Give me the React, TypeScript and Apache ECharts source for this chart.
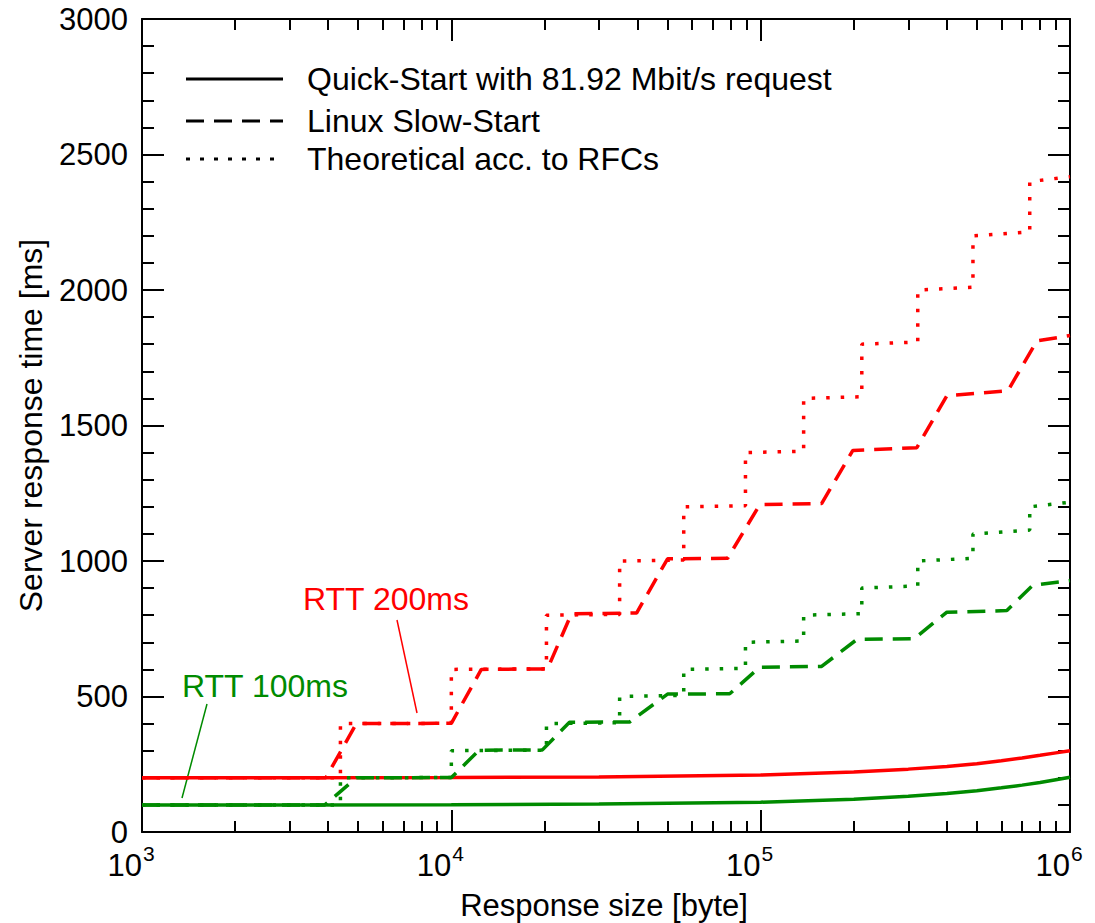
import React, { useEffect, useRef } from "react";
import * as echarts from "echarts";

const FONT = '"Liberation Sans", Arial, Helvetica, sans-serif';
const RED = "#ff0000";
const GREEN = "#008b00";

// Quick-Start with 81.92 Mbit/s request
const quickSizes = [1000, 3000, 10000, 30000, 100000, 200000, 300000, 400000, 500000, 600000, 700000, 800000, 900000, 1000000];
const quickRtt200 = [200, 200, 201, 203, 210, 221, 232, 242, 252, 263, 273, 283, 292, 300];
const quickRtt100 = [100, 100, 101, 103, 110, 121, 132, 142, 152, 163, 173, 183, 193, 202];

// Linux Slow-Start
const linuxSizes200 = [1000, 3930, 4930, 10000, 12500, 20460, 24440, 39700, 50000, 78200, 99300, 157400, 198600, 319800, 400000, 629700, 781000, 1000000];
const linuxRtt200 = [200, 200, 400, 401, 600, 602, 805, 808, 1008, 1010, 1208, 1212, 1408, 1418, 1610, 1628, 1812, 1832];
const linuxSizes100 = [1000, 3900, 4930, 10000, 12300, 19700, 24100, 37700, 50000, 79400, 99300, 157400, 205000, 313000, 400000, 625000, 757000, 1000000];
const linuxRtt100 = [100, 100, 200, 201, 302, 303, 405, 406, 509, 510, 608, 611, 711, 713, 811, 817, 910, 928];

// Theoretical acc. to RFCs
const rfcSizes = [1000, 4380, 4380, 10000, 10000, 20300, 20300, 35000, 35000, 56400, 56400, 89300, 89300, 137700, 137700, 212300, 212300, 322000, 322000, 485600, 485600, 741000, 741000, 1000000];
const rfcRtt200 = [200, 200, 400, 401, 600, 602, 800, 803, 1000, 1004, 1200, 1204, 1400, 1405, 1600, 1606, 1800, 1808, 2000, 2010, 2200, 2214, 2400, 2418];
const rfcRtt100 = [100, 100, 200, 201, 300, 302, 400, 403, 500, 504, 600, 604, 700, 705, 800, 806, 900, 908, 1000, 1010, 1100, 1114, 1200, 1217];

// axis ticks
const yTickInterval = 500;
const minorMultipliers = [2, 3, 4, 5, 6, 7, 8, 9];
const decadeExponents = [3, 4, 5];
const minorTickPositions = decadeExponents.flatMap((e) => minorMultipliers.map((m) => e + Math.log10(m)));

const legendLabels = [
  "Quick-Start with 81.92 Mbit/s request",
  "Linux Slow-Start",
  "Theoretical acc. to RFCs",
];

const pairs = (xs: number[], ys: number[]) => xs.map((x, i) => [x, ys[i]]);

const DASH = [18, 10];
const DOT = [3.5, 11];

export default function App() {
  const ref = useRef<HTMLDivElement>(null);
  useEffect(() => {
    if (!ref.current) return;
    const chart = echarts.init(ref.current, null, { renderer: "svg" });
    const black = { color: "#000", width: 2 };
    const majorX = (pos: string, withLabel: boolean) => ({
      type: "log",
      logBase: 10,
      min: 1000,
      max: 1000000,
      position: pos,
      gridIndex: 0,
      axisLine: { show: true, onZero: false, lineStyle: black },
      axisTick: { show: true, inside: true, length: 22, lineStyle: black },
      splitLine: { show: false },
      minorTick: { show: false },
      axisLabel: withLabel
        ? {
            show: true,
            margin: 19,
            formatter: (v: number) => `{b|10}{s|${Math.round(Math.log10(v))}}`,
            rich: {
              b: { fontSize: 31, lineHeight: 30, fontFamily: FONT, color: "#000", verticalAlign: "bottom" },
              s: { fontSize: 21, lineHeight: 20, fontFamily: FONT, color: "#000", verticalAlign: "bottom", padding: [0, 22, 17, 1] },
            },
          }
        : { show: false },
      ...(withLabel
        ? {
            name: "Response size [byte]",
            nameLocation: "middle",
            nameGap: 58,
            nameMoveOverlap: false,
            nameTextStyle: { fontSize: 31, fontFamily: FONT, color: "#000", padding: [0, 4, 0, 0] },
          }
        : {}),
    });
    const minorX = (pos: string) => ({
      type: "value",
      min: 3,
      max: 6,
      position: pos,
      gridIndex: 0,
      axisLine: { show: false, onZero: false },
      axisTick: { show: true, inside: true, length: 11, customValues: minorTickPositions, lineStyle: black },
      axisLabel: { show: false },
      splitLine: { show: false },
    });
    const yAx = (pos: string, withLabel: boolean) => ({
      type: "value",
      min: 0,
      max: 3000,
      interval: yTickInterval,
      position: pos,
      axisLine: { show: true, onZero: false, lineStyle: black },
      axisTick: { show: true, inside: true, length: 22, lineStyle: black },
      minorTick: { show: true, splitNumber: 5, length: 12, lineStyle: black },
      splitLine: { show: false },
      axisLabel: withLabel
        ? { show: true, fontSize: 31, fontFamily: FONT, color: "#000", margin: 14, formatter: (v: number) => String(v) }
        : { show: false },
      ...(withLabel
        ? {
            name: "Server response time [ms]",
            nameLocation: "middle",
            nameGap: 95,
            nameMoveOverlap: false,
            nameTextStyle: { fontSize: 32, fontFamily: FONT, color: "#000" },
          }
        : {}),
    });
    const line = (data: number[][], color: string, type: any, z: number) => ({
      type: "line",
      xAxisIndex: 0,
      yAxisIndex: 0,
      data,
      symbol: "none",
      showSymbol: false,
      z,
      lineStyle: { color, width: 3.5, type, cap: "butt" },
      emphasis: { disabled: true },
    });
    const legendRows = [79, 121, 159];
    const legendDash = [null, DASH, [4, 10]];
    const graphic: any[] = [];
    legendRows.forEach((y, i) => {
      graphic.push({
        type: "line",
        shape: { x1: 186, y1: y, x2: 283, y2: y },
        style: { stroke: "#000", lineWidth: 3, lineDash: legendDash[i] || null },
      });
      graphic.push({
        type: "text",
        x: 307,
        y,
        style: { text: legendLabels[i], font: `32px ${FONT}`, fill: "#000", textAlign: "left", textVerticalAlign: "middle" },
      });
    });
    graphic.push({
      type: "text",
      x: 303,
      y: 599,
      style: { text: "RTT 200ms", font: `32px ${FONT}`, fill: RED, textAlign: "left", textVerticalAlign: "middle" },
    });
    graphic.push({
      type: "line",
      shape: { x1: 397, y1: 620, x2: 417, y2: 713 },
      style: { stroke: RED, lineWidth: 1.5 },
    });
    graphic.push({
      type: "text",
      x: 182,
      y: 686,
      style: { text: "RTT 100ms", font: `32px ${FONT}`, fill: GREEN, textAlign: "left", textVerticalAlign: "middle" },
    });
    graphic.push({
      type: "line",
      shape: { x1: 207, y1: 704, x2: 182, y2: 798 },
      style: { stroke: GREEN, lineWidth: 1.5 },
    });

    chart.setOption({
      animation: false,
      backgroundColor: "#fff",
      textStyle: { fontFamily: FONT },
      grid: { left: 142, right: 25, top: 19, bottom: 91, containLabel: false, outerBoundsMode: "none" },
      xAxis: [majorX("bottom", true), minorX("bottom"), majorX("top", false), minorX("top")],
      yAxis: [yAx("left", true), yAx("right", false)],
      series: [
        line(pairs(quickSizes, quickRtt200), RED, "solid", 2),
        line(pairs(quickSizes, quickRtt100), GREEN, "solid", 2),
        line(pairs(linuxSizes200, linuxRtt200), RED, DASH, 3),
        line(pairs(linuxSizes100, linuxRtt100), GREEN, DASH, 3),
        line(pairs(rfcSizes, rfcRtt200), RED, DOT, 4),
        line(pairs(rfcSizes, rfcRtt100), GREEN, DOT, 4),
      ],
      graphic,
    });
    return () => chart.dispose();
  }, []);
  return <div ref={ref} style={{ position: "absolute", left: 0, top: 0, width: 1095, height: 923 }} />;
}
